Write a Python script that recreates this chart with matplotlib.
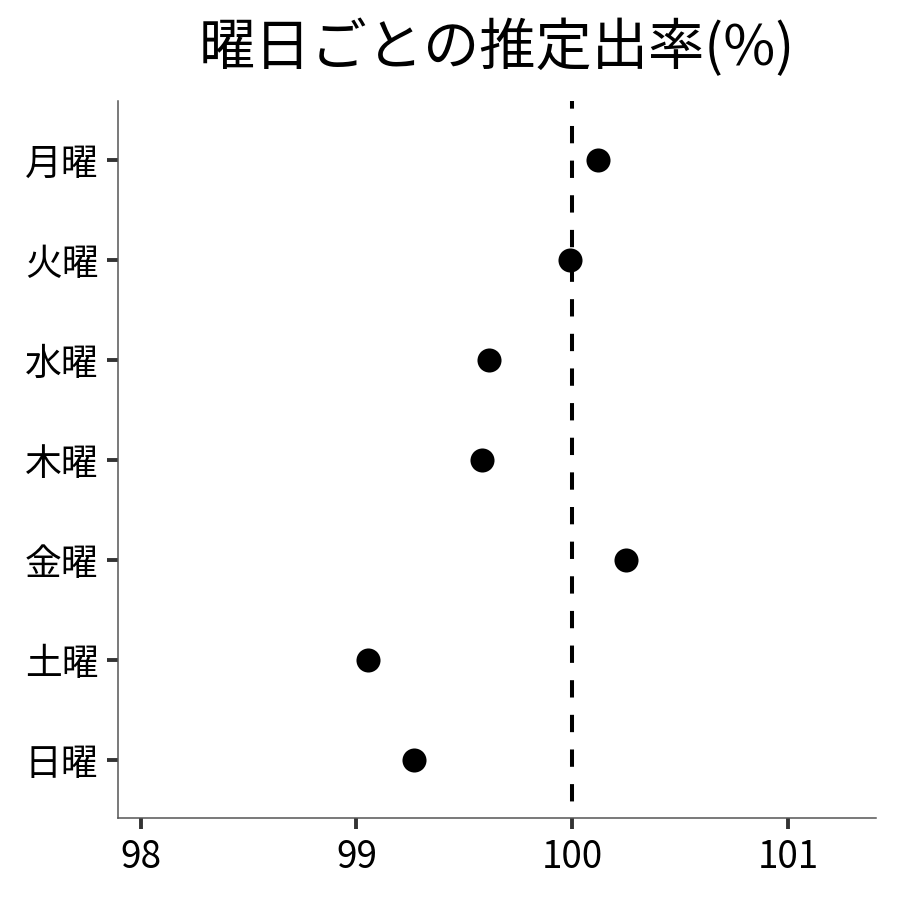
import matplotlib
matplotlib.use("Agg")
import matplotlib.pyplot as plt

plt.rcParams['font.family'] = ['Noto Sans CJK JP', 'DejaVu Sans']

days = ['月曜', '火曜', '水曜', '木曜', '金曜', '土曜', '日曜']
rates = [100.12, 99.99, 99.615, 99.58, 100.25, 99.055, 99.265]
ref_value = 100
x_ticks = [98, 99, 100, 101]
title = '曜日ごとの推定出率(%)'

fig = plt.figure(figsize=(9, 9), dpi=100)
ax = fig.add_axes([0.131, 0.091, 0.842, 0.797])

n = len(days)
ypos = [n - i for i in range(n)]
y_top = n + 0.59
y_bot = 0.42
ax.scatter(rates, ypos, s=300, color='black', zorder=3, linewidths=0)
ax.plot([ref_value, ref_value], [y_top, y_bot], color='black',
        linestyle=(2.4, (4.3, 4.3)), linewidth=2.9, zorder=2, solid_capstyle='butt')

ax.set_xlim(97.894, 101.407)
ax.set_ylim(y_bot, y_top)
ax.set_yticks(ypos)
ax.set_yticklabels(days)
ax.set_xticks(x_ticks)
ax.set_xticklabels([str(t) for t in x_ticks])

for s in ['top', 'right']:
    ax.spines[s].set_visible(False)
for s in ['left', 'bottom']:
    ax.spines[s].set_color('#555555')
    ax.spines[s].set_linewidth(1.1)

ax.tick_params(axis='both', length=8, width=2.8, color='#333333', labelsize=26.5, labelcolor='black')
ax.tick_params(axis='y', pad=6)
ax.tick_params(axis='x', pad=6)

fig.text(0.552, 0.946, title, ha='center', va='center', fontsize=40.5)

fig.savefig('out.png', dpi=100, facecolor='white')
